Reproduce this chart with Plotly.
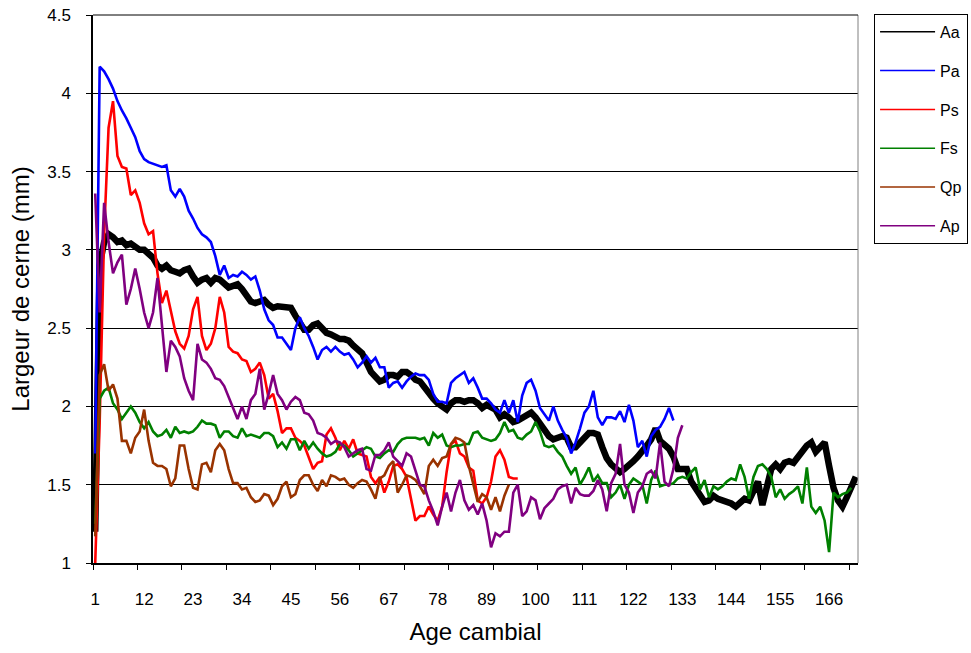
import plotly.graph_objects as go

# ---- data ----
aa = [1.2, 2.9, 3.05, 3.1, 3.08, 3.05, 3.06, 3.03, 3.04, 3.02,
      3.0, 3.0, 2.97, 2.95, 2.9, 2.88, 2.9, 2.87, 2.86, 2.85,
      2.87, 2.88, 2.83, 2.79, 2.81, 2.82, 2.79, 2.82, 2.81, 2.79,
      2.76, 2.77, 2.78, 2.75, 2.7, 2.67, 2.66, 2.67, 2.68, 2.65,
      2.63, 2.64, 2.64, 2.64, 2.63, 2.58, 2.53, 2.49, 2.49, 2.52,
      2.53, 2.5, 2.47, 2.46, 2.44, 2.43, 2.43, 2.42, 2.39, 2.36,
      2.34, 2.28, 2.22, 2.19, 2.16, 2.17, 2.2, 2.2, 2.19, 2.22,
      2.22, 2.2, 2.17, 2.16, 2.12, 2.08, 2.05, 2.02, 2.0, 1.98,
      2.02, 2.04, 2.04, 2.03, 2.04, 2.04, 2.02, 1.99, 2.01, 2.0,
      1.98, 1.93, 1.95, 1.93, 1.9, 1.91, 1.93, 1.95, 1.96, 1.93,
      1.88, 1.85, 1.81, 1.79, 1.8, 1.81, 1.8, 1.74, 1.74, 1.77,
      1.8, 1.83, 1.83, 1.82, 1.74, 1.67, 1.63, 1.61, 1.58, 1.6,
      1.62, 1.65, 1.68, 1.71, 1.75, 1.79, 1.86, 1.78, 1.75, 1.73,
      1.68, 1.6, 1.6, 1.6, 1.52, 1.47, 1.43, 1.39, 1.4, 1.43,
      1.41, 1.4, 1.4, 1.38, 1.36, 1.39, 1.41, 1.4, 1.45, 1.52,
      1.37, 1.48, 1.6, 1.63, 1.6, 1.64, 1.65, 1.64, 1.68, 1.72,
      1.75, 1.77, 1.71, 1.74, 1.77, 1.62, 1.48, 1.4, 1.36, 1.42, 1.48, 1.55]

pa = [1.7, 4.17, 4.14, 4.09, 4.03, 3.95, 3.89, 3.84, 3.78, 3.72,
      3.63, 3.58, 3.56, 3.55, 3.54, 3.53, 3.54, 3.38, 3.34, 3.39,
      3.34, 3.25, 3.2, 3.14, 3.1, 3.08, 3.05, 2.96, 2.84, 2.9,
      2.82, 2.84, 2.83, 2.86, 2.84, 2.81, 2.83, 2.74, 2.62, 2.55,
      2.52, 2.44, 2.44, 2.4, 2.36, 2.5, 2.57, 2.5, 2.45, 2.38,
      2.3, 2.36, 2.38, 2.35, 2.38, 2.35, 2.33, 2.34, 2.3, 2.25,
      2.28, 2.32, 2.28, 2.31, 2.25, 2.25, 2.12, 2.15, 2.16, 2.12,
      2.16, 2.19, 2.21, 2.2, 2.2, 2.17, 2.08, 2.03, 2.03, 2.02,
      2.15, 2.18, 2.2, 2.22, 2.15, 2.18, 2.12, 2.05, 2.05, 2.02,
      1.98, 1.96, 2.04, 1.96, 2.04, 1.9, 2.07, 2.15, 2.17, 2.1,
      1.99, 1.95, 1.91, 2.0, 1.91, 1.85, 1.8, 1.7, 1.77, 1.86,
      1.96, 2.0, 2.1, 1.93, 1.88, 1.93, 1.93, 1.92, 1.97, 1.9,
      2.01, 1.91, 1.74, 1.78, 1.68, 1.81, 1.85, 1.87, 1.92, 1.99, 1.91]

ps = [1.0, 1.9, 3.1, 3.78, 3.95, 3.6, 3.53, 3.52, 3.35, 3.38,
      3.3, 3.17, 3.1, 3.12, 2.85, 2.66, 2.74, 2.6, 2.48, 2.4,
      2.37, 2.45, 2.62, 2.7, 2.45, 2.36, 2.4, 2.5, 2.7, 2.6,
      2.38, 2.35, 2.34, 2.3, 2.29, 2.22, 2.24, 2.28, 2.2, 2.05,
      2.08, 1.97, 1.83, 1.86, 1.86, 1.8, 1.78, 1.75, 1.68, 1.6,
      1.64, 1.65, 1.82, 1.86, 1.8, 1.72, 1.78, 1.73, 1.79, 1.7,
      1.69, 1.68, 1.55, 1.51, 1.55, 1.45, 1.52, 1.62, 1.63, 1.6,
      1.55, 1.42, 1.27, 1.3, 1.3, 1.36, 1.31, 1.27, 1.36, 1.58,
      1.76, 1.78, 1.7, 1.68, 1.61, 1.59, 1.4, 1.38, 1.42, 1.52,
      1.68, 1.72, 1.66, 1.55, 1.54, 1.54]

fs = [1.25, 2.05, 2.1, 2.12, 2.02, 1.98, 1.92, 1.96, 2.0, 1.96,
      1.9, 1.86, 1.9, 1.84, 1.81, 1.82, 1.85, 1.8, 1.87, 1.83,
      1.84, 1.83, 1.84, 1.87, 1.91, 1.89, 1.89, 1.88, 1.8, 1.84,
      1.84, 1.81, 1.8, 1.86, 1.81, 1.82, 1.81, 1.8, 1.83, 1.83,
      1.81, 1.74, 1.77, 1.73, 1.79, 1.79, 1.72, 1.78, 1.73, 1.77,
      1.73, 1.7, 1.68, 1.69, 1.71, 1.76, 1.75, 1.72, 1.68, 1.7,
      1.72, 1.74, 1.73, 1.68, 1.67, 1.7, 1.72, 1.71, 1.76, 1.79,
      1.8, 1.8, 1.8, 1.79, 1.8, 1.75, 1.83, 1.8, 1.82, 1.75,
      1.74, 1.75, 1.75, 1.76, 1.76, 1.83, 1.84, 1.8, 1.79, 1.78,
      1.79, 1.83, 1.9, 1.84, 1.85, 1.8, 1.79, 1.82, 1.84, 1.9,
      1.84, 1.75, 1.74, 1.75, 1.71, 1.68, 1.62, 1.57, 1.61, 1.5,
      1.55, 1.61, 1.52, 1.56, 1.51, 1.51, 1.42, 1.45, 1.5, 1.41,
      1.5, 1.54, 1.52, 1.5, 1.38, 1.53, 1.59, 1.49, 1.5, 1.5,
      1.51, 1.54, 1.55, 1.54, 1.58, 1.61, 1.47, 1.53, 1.42, 1.49,
      1.47, 1.49, 1.52, 1.54, 1.53, 1.63, 1.55, 1.41, 1.55, 1.62,
      1.63, 1.6, 1.55, 1.42, 1.47, 1.41, 1.44, 1.46, 1.49, 1.38,
      1.61, 1.36, 1.32, 1.36, 1.27, 1.07, 1.45, 1.42, 1.44, 1.45, 1.48]

qp = [1.17, 2.2, 2.27, 2.1, 2.14, 2.05, 1.78, 1.78, 1.7, 1.8,
      1.84, 1.98, 1.78, 1.64, 1.62, 1.62, 1.6, 1.49, 1.54, 1.75,
      1.75, 1.6, 1.48, 1.47, 1.63, 1.64, 1.58, 1.72, 1.76, 1.72,
      1.6, 1.51, 1.51, 1.47, 1.48, 1.42, 1.39, 1.4, 1.44, 1.43,
      1.37, 1.41, 1.49, 1.52, 1.42, 1.44, 1.53, 1.56, 1.56, 1.5,
      1.46, 1.53, 1.49, 1.56, 1.55, 1.53, 1.54, 1.5, 1.48, 1.51,
      1.53, 1.52, 1.47, 1.41, 1.54, 1.56, 1.62, 1.65, 1.45, 1.5,
      1.56, 1.55, 1.53, 1.49, 1.44, 1.62, 1.66, 1.62, 1.67, 1.68,
      1.76, 1.8, 1.79, 1.77, 1.62, 1.5, 1.39, 1.44, 1.42, 1.34,
      1.42, 1.33, 1.43, 1.5]

ap = [3.36, 2.6, 3.3, 3.05, 2.85, 2.92, 2.97, 2.65, 2.75, 2.88,
      2.75, 2.6, 2.5, 2.6, 2.82, 2.5, 2.22, 2.42, 2.38, 2.32,
      2.18, 2.1, 2.04, 2.4, 2.3, 2.28, 2.24, 2.18, 2.17, 2.13,
      2.06, 1.98, 1.92, 2.0, 1.92, 2.04, 2.08, 2.24, 1.98, 2.08,
      2.2, 2.08, 2.04, 1.98, 2.03, 2.06, 2.04, 1.96, 1.95, 1.91,
      1.83, 1.82, 1.8, 1.76, 1.78, 1.77, 1.74, 1.68, 1.7, 1.72,
      1.73, 1.6, 1.59, 1.69, 1.69, 1.72, 1.77, 1.68, 1.65, 1.62,
      1.7, 1.68, 1.59, 1.5, 1.49, 1.4, 1.33, 1.24, 1.36, 1.45,
      1.33, 1.45, 1.53, 1.4, 1.34, 1.37, 1.31, 1.38, 1.27, 1.1,
      1.19, 1.17, 1.2, 1.2, 1.45, 1.5, 1.3, 1.33, 1.42, 1.4,
      1.28, 1.35, 1.38, 1.41, 1.47, 1.49, 1.5, 1.38, 1.48, 1.44,
      1.43, 1.43, 1.46, 1.53, 1.47, 1.33, 1.51, 1.57, 1.76, 1.5,
      1.45, 1.32, 1.45, 1.49, 1.57, 1.59, 1.54, 1.77, 1.52, 1.49,
      1.6, 1.8, 1.88]

series_names = ["Aa", "Pa", "Ps", "Fs", "Qp", "Ap"]
series_vals = [aa, pa, ps, fs, qp, ap]
colors = ["#000000", "#0000FF", "#FF0000", "#008000", "#993300", "#800080"]
widths = [6.5, 2.6, 2.6, 2.6, 2.6, 2.6]

x_ticks = list(range(1, 173, 11))
y_ticks = [1, 1.5, 2, 2.5, 3, 3.5, 4, 4.5]

FONT = "Liberation Sans, Arial, sans-serif"

fig = go.Figure()
for name, vals, c, w in zip(series_names, series_vals, colors, widths):
    fig.add_trace(go.Scatter(
        x=list(range(1, len(vals) + 1)), y=vals, mode="lines",
        line=dict(color=c, width=w), name=name, showlegend=False,
        hoverinfo="skip"))
# legend entries (thin samples as in the reference)
for i, (name, c) in enumerate(zip(series_names, colors)):
    fig.add_trace(go.Scatter(
        x=[None], y=[None], mode="lines", line=dict(color=c, width=1.5),
        name=name, legendgroup=f"g{i}", showlegend=True))

fig.update_layout(
    width=971, height=653,
    margin=dict(l=93, r=113, t=15, b=90, autoexpand=False),
    paper_bgcolor="white", plot_bgcolor="white",
    font=dict(family=FONT, size=16, color="black"),
    showlegend=True,
    legend=dict(
        x=1.021, y=1.002, xanchor="left", yanchor="top",
        bordercolor="black", borderwidth=1, bgcolor="white",
        font=dict(family=FONT, size=16, color="black"),
        tracegroupgap=15, itemwidth=55, traceorder="grouped"),
    xaxis=dict(
        range=[0.5, 172.5], tickmode="array", tickvals=x_ticks,
        ticktext=[str(v) for v in x_ticks], ticks="",
        showgrid=False, zeroline=False, automargin=False,
        showline=True, linecolor="black", linewidth=1.5,
        tickfont=dict(family=FONT, size=17),
        ticklabelstandoff=20,
        minor=dict(tick0=0.5, dtick=10, ticks="outside", ticklen=5,
                   tickcolor="black", showgrid=False),
        title=dict(text="Age cambial", font=dict(family=FONT, size=24),
                   standoff=15),
    ),
    yaxis=dict(
        range=[1, 4.5], tickmode="array", tickvals=y_ticks,
        ticktext=[f"{v:g}" for v in y_ticks],
        ticks="outside", ticklen=5, tickcolor="black",
        showgrid=True, gridcolor="black", gridwidth=1,
        zeroline=False, showline=True, linecolor="black", linewidth=1.5,
        automargin=False, ticklabeloverflow="allow",
        tickfont=dict(family=FONT, size=17),
        ticklabelstandoff=12,
        title=dict(text="Largeur de cerne (mm)",
                   font=dict(family=FONT, size=24), standoff=11),
    ),
    shapes=[
        dict(type="line", xref="paper", yref="paper", x0=1, x1=1, y0=0, y1=1,
             line=dict(color="#808080", width=1)),
        dict(type="line", xref="paper", yref="paper", x0=0, x1=1, y0=1, y1=1,
             line=dict(color="black", width=1)),
    ],
)

fig.write_html("out.html",
               config={"displayModeBar": False},
               post_script="document.body.style.margin='0';")
